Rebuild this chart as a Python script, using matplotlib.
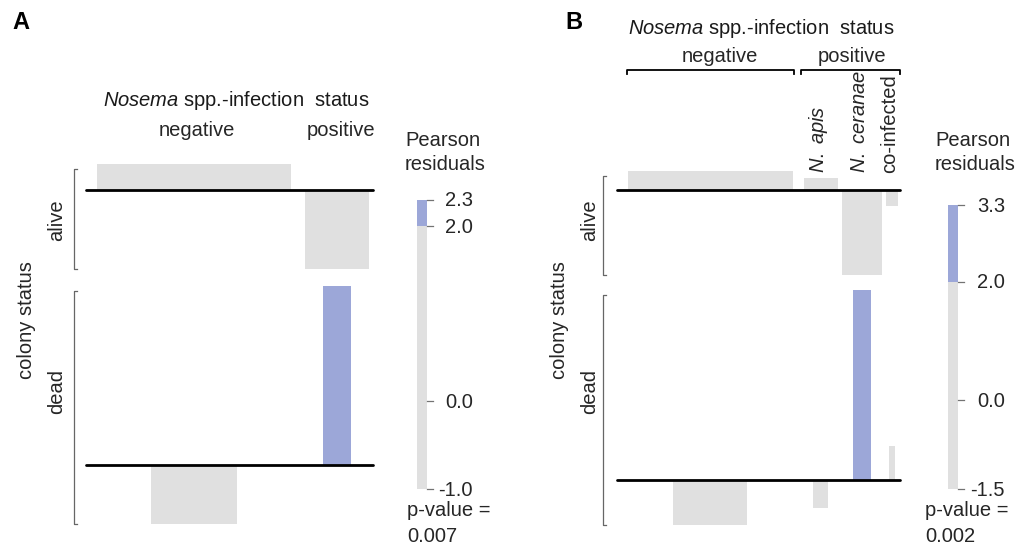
import matplotlib
matplotlib.use("Agg")
import matplotlib.pyplot as plt

plt.rcParams['font.family'] = ['Liberation Sans', 'DejaVu Sans']
plt.rcParams['mathtext.fontset'] = 'custom'
plt.rcParams['mathtext.rm'] = 'Liberation Sans'
plt.rcParams['mathtext.it'] = 'Liberation Sans:italic'

rows = ['alive', 'dead']

# panel A: infection negative / positive
cols_a = ['negative', 'positive']
resid_a_alive = [0.33, -1.02]
resid_a_dead = [-0.76, 2.30]
width_a_alive = [194, 64]      # bar widths ~ sqrt(expected counts)
width_a_dead = [86, 28]
pval_a = '0.007'

# panel B: negative / N. apis / N. ceranae / co-infected
cols_b = ['negative', 'N. apis', 'N. ceranae', 'co-infected']
resid_b_alive = [0.335, 0.21, -1.48, -0.27]
resid_b_dead = [-0.78, -0.48, 3.30, 0.59]
width_b_alive = [165, 34, 40, 12]
width_b_dead = [74, 15, 18, 6]
pval_b = '0.002'

BLUE = '#9ca7d8'
GRAY = '#e0e0e0'
FS = 14.5

fig = plt.figure(figsize=(10.2, 5.47), dpi=100)
ax = fig.add_axes([0, 0, 1, 1])
ax.set_xlim(0, 1020)
ax.set_ylim(547, 0)
ax.axis('off')


def draw_assoc(ax, resid, widths, x0, pad_l, gaps, pad_r, top, row_gap, k,
               bracket_x, label_x, label_y):
    space = [max(col) for col in zip(*widths)]
    centers = []
    x = x0 + pad_l
    for j, s in enumerate(space):
        centers.append(x + s / 2)
        x += s + (gaps[j] if j < len(gaps) else 0)
    x_end = x + pad_r

    y = top
    for i in range(len(resid)):
        up = max(max(resid[i]), 0) * k
        down = max(-min(resid[i]), 0) * k
        base = y + up
        for c, r, w in zip(centers, resid[i], widths[i]):
            ax.bar(c, -r * k, width=w, bottom=base,
                   color=BLUE if r > 2 else GRAY, edgecolor='none', zorder=2)
        ax.plot([x0, x_end], [base, base], color='black', lw=2.0,
                solid_capstyle='round', zorder=3)
        b0, b1 = y + 5, y + up + down
        ax.plot([bracket_x + 3, bracket_x, bracket_x, bracket_x + 3],
                [b0, b0, b1, b1], color='0.4', lw=0.9)
        ax.text(label_x, label_y[i], rows[i], rotation=90, ha='center',
                va='center', fontsize=FS, color='0.15')
        y = base + down + row_gap
    return centers


def draw_legend(ax, x, top, bot, rmax, rmin, lab_x, txt_x, pval):
    w = 10
    k = (bot - top) / (rmax - rmin)
    y2 = top + (rmax - 2.0) * k
    ax.bar(x + w / 2, y2 - top, width=w, bottom=top, color=BLUE,
           edgecolor='none')
    ax.bar(x + w / 2, bot - y2, width=w, bottom=y2, color=GRAY,
           edgecolor='none')
    for v in [rmax, 2.0, 0.0, rmin]:
        yy = top + (rmax - v) * k
        ax.plot([x + w, x + w + 6], [yy, yy], color='0.45', lw=0.9)
        ax.text(lab_x, yy + 1, '%.1f' % v, ha='right', va='center',
                fontsize=FS, color='0.15')
    ax.text(txt_x, 145.5, 'Pearson', fontsize=FS, va='baseline', color='0.15')
    ax.text(txt_x, 170, 'residuals', fontsize=FS, va='baseline', color='0.15')
    ax.text(txt_x + 2 if pval == pval_a else txt_x - 10, 516.5, 'p-value =',
            fontsize=FS, va='baseline', color='0.15')
    ax.text(txt_x + 2 if pval == pval_a else txt_x - 10, 541.5, pval,
            fontsize=FS, va='baseline', color='0.15')


# ---- panel A ----
ax.text(12, 29, 'A', fontsize=17, fontweight='bold', va='baseline')
draw_assoc(ax, [resid_a_alive, resid_a_dead], [width_a_alive, width_a_dead],
           x0=86, pad_l=11, gaps=[14], pad_r=4, top=164, row_gap=16.4, k=78,
           bracket_x=74, label_x=57, label_y=[220, 391])
ax.text(27, 320, 'colony status', rotation=90, ha='center', va='center',
        fontsize=FS, color='0.15')
ax.text(103, 101, r'$\it{Nosema}$ spp.-infection  status', fontsize=FS,
        va='center', color='0.1')
ax.text(196.5, 131, cols_a[0], ha='center', va='center', fontsize=FS, color='0.15')
ax.text(341, 131, cols_a[1], ha='center', va='center', fontsize=FS, color='0.15')
draw_legend(ax, 417, 200, 489, max(resid_a_dead + resid_a_alive),
            round(min(resid_a_alive + resid_a_dead), 1), 473, 405, pval_a)

# ---- panel B ----
ax.text(565, 29, 'B', fontsize=17, fontweight='bold', va='baseline')
draw_assoc(ax, [resid_b_alive, resid_b_dead], [width_b_alive, width_b_dead],
           x0=617, pad_l=11, gaps=[11, 4, 4], pad_r=2, top=170.7, row_gap=14.7,
           k=57.6, bracket_x=603, label_x=589.5, label_y=[220, 391])
ax.text(559.5, 320, 'colony status', rotation=90, ha='center', va='center',
        fontsize=FS, color='0.15')
ax.text(628, 28, r'$\it{Nosema}$ spp.-infection  status', fontsize=FS,
        va='center', color='0.1')
ax.text(719.5, 56, 'negative', ha='center', va='center', fontsize=FS, color='0.15')
ax.text(852, 56, 'positive', ha='center', va='center', fontsize=FS, color='0.15')
for xa, xb in [(627, 794), (801, 900)]:
    ax.plot([xa, xa, xb, xb], [74, 70, 70, 74], color='black', lw=1.3)
sub_labels = [r'$\it{N.\ apis}$', r'$\it{N.\ ceranae}$', cols_b[3]]
for xc, lab in zip([819, 860, 890], sub_labels):
    ax.text(xc, 173, lab, rotation=90, ha='center', va='bottom',
            fontsize=FS, color='0.15')
draw_legend(ax, 948, 205, 489, max(resid_b_alive + resid_b_dead),
            round(min(resid_b_alive + resid_b_dead), 1), 1005, 935, pval_b)

fig.savefig('out.png', dpi=100)
